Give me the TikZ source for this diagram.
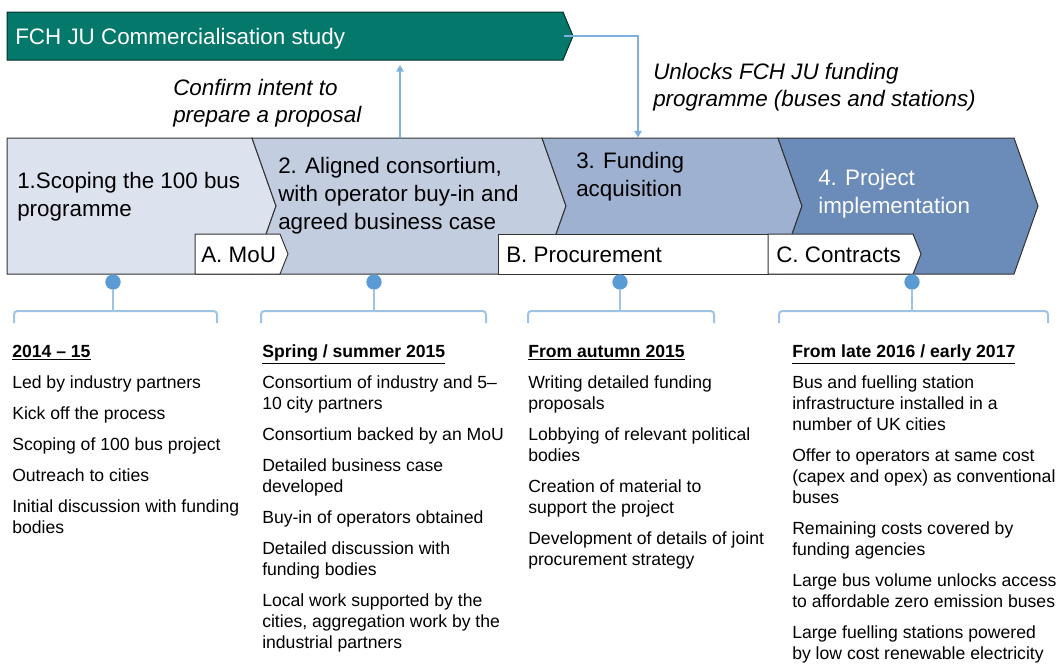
\documentclass[tikz,border=0pt]{standalone}
\usepackage{fontspec}
\setmainfont{Liberation Sans}
\usetikzlibrary{arrows.meta}
\definecolor{tealA}{HTML}{05786C}
\definecolor{chA}{HTML}{DCE2EE}
\definecolor{chB}{HTML}{C3CDE0}
\definecolor{chC}{HTML}{9EB1D0}
\definecolor{chD}{HTML}{6B8BB9}
\definecolor{dotc}{HTML}{5B9BD5}
\definecolor{brc}{HTML}{9DC3E6}
\definecolor{arc}{HTML}{7FB0DE}
\newcommand\mystrut{\rule{0pt}{0.8em}}
\begin{document}
\begin{tikzpicture}[x=0.75pt,y=-0.75pt,
  chev/.style={draw=black!80,line width=0.75pt,line join=miter},
  big/.style={font=\fontsize{16.8}{21}\selectfont,inner sep=0pt,align=left},
  lab/.style={font=\fontsize{16.8}{20.25}\selectfont\itshape,inner sep=0pt,align=left},
  body/.style={font=\fontsize{13.2}{15.75}\selectfont,inner sep=0pt,align=left,anchor=north west},
  dot/.style={circle,fill=dotc,inner sep=0pt,minimum size=11.5pt},
  brk/.style={draw=brc,line width=1.5pt,rounded corners=2.5pt},
  stem/.style={draw=brc,line width=1.5pt},
  conn/.style={draw=arc,line width=1.1pt,-{Triangle[width=5.5pt,length=5pt]}}]
\useasboundingbox (0,0) rectangle (1059,664);

% banner
\fill[tealA,draw=black!60!tealA,line width=0.75pt] (7,12) -- (563,12) -- (573,36) -- (563,60) -- (7,60) -- cycle;
\node[big,anchor=base west,text=white] (study) at (15,44) {FCH JU Commercialisation study};

% chevrons
\filldraw[chev,fill=chA] (7,138) -- (252,138) -- (276,206) -- (252,274) -- (7,274) -- cycle;
\filldraw[chev,fill=chB] (252,138) -- (542,138) -- (566,206) -- (542,274) -- (252,274) -- (276,206) -- cycle;
\filldraw[chev,fill=chC] (542,138) -- (778,138) -- (802,206) -- (778,274) -- (542,274) -- (566,206) -- cycle;
\filldraw[chev,fill=chD] (778,138) -- (1014,138) -- (1038,206) -- (1014,274) -- (778,274) -- (802,206) -- cycle;

% milestone boxes
\filldraw[chev,fill=white] (195,234) -- (280,234) -- (288,254) -- (280,274) -- (195,274) -- cycle;
\filldraw[chev,fill=white] (498,234) rectangle (768,274);
\filldraw[chev,fill=white] (768,234) -- (913,234) -- (921,254) -- (913,274) -- (768,274) -- cycle;
\node[big,anchor=base west] (mA) at (201,262) {A. MoU};
\node[big,anchor=base west] (mB) at (506,262) {B. Procurement};
\node[big,anchor=base west] (mC) at (776,262) {C. Contracts};

% chevron texts
\node[big,anchor=north west] (t1) at (17,170.1) {\mystrut 1.Scoping the 100 bus\\programme};
\node[big,anchor=north west] (t2) at (278,155.1) {\mystrut 2. Aligned consortium,\\with operator buy-in and\\agreed business case};
\node[big,anchor=north west] (t3) at (576,150.1) {\mystrut 3. Funding\\acquisition};
\node[big,anchor=north west,text=white] (t4) at (818,167.1) {\mystrut 4. Project\\implementation};

% arrow labels
\node[lab,anchor=north west] (l1) at (173,77.1) {\mystrut Confirm intent to\\prepare a proposal};
\node[lab,anchor=north west] (l2) at (653,61.1) {\mystrut Unlocks FCH JU funding\\programme (buses and stations)};

% connectors
\coordinate (bE) at (564,36);
\coordinate (c3top) at (638,137.5);
\coordinate (c2top) at (400,137.5);
\coordinate (bBot) at (400,65);
\draw[conn] (bE) -| (c3top);
\draw[conn] (c2top) -- (bBot);

% brackets
\coordinate (b1) at (113,311);
\coordinate (b2) at (374,311);
\coordinate (b3) at (620,311);
\coordinate (b4) at (912,311);
\draw[brk] (14,323) -- (14,311) -- (217,311) -- (217,323);
\draw[brk] (261,323) -- (261,311) -- (486,311) -- (486,323);
\draw[brk] (528,323) -- (528,311) -- (714,311) -- (714,323);
\draw[brk] (779,323) -- (779,311) -- (1048,311) -- (1048,323);
\node[dot] (d1) at (113,282) {};
\node[dot] (d2) at (374,282) {};
\node[dot] (d3) at (620,282) {};
\node[dot] (d4) at (912,282) {};
\draw[stem] (d1) -- (b1);
\draw[stem] (d2) -- (b2);
\draw[stem] (d3) -- (b3);
\draw[stem] (d4) -- (b4);

% columns
\node[body] (col1) at (12,342.9) {\mystrut\underline{\textbf{2014 – 15}}\\[7.5pt]
Led by industry partners\\[7.5pt]
Kick off the process\\[7.5pt]
Scoping of 100 bus project\\[7.5pt]
Outreach to cities\\[7.5pt]
Initial discussion with funding\\bodies};

\node[body] (col2) at (262,342.9) {\mystrut\underline{\textbf{Spring / summer 2015}}\\[7.5pt]
Consortium of industry and 5–\\10 city partners\\[7.5pt]
Consortium backed by an MoU\\[7.5pt]
Detailed business case\\developed\\[7.5pt]
Buy-in of operators obtained\\[7.5pt]
Detailed discussion with\\funding bodies\\[7.5pt]
Local work supported by the\\cities, aggregation work by the\\industrial partners};

\node[body] (col3) at (528,342.9) {\mystrut\underline{\textbf{From autumn 2015}}\\[7.5pt]
Writing detailed funding\\proposals\\[7.5pt]
Lobbying of relevant political\\bodies\\[7.5pt]
Creation of material to\\support the project\\[7.5pt]
Development of details of joint\\procurement strategy};

\node[body] (col4) at (792,342.9) {\mystrut\underline{\textbf{From late 2016 / early 2017}}\\[7.5pt]
Bus and fuelling station\\infrastructure installed in a\\number of UK cities\\[7.5pt]
Offer to operators at same cost\\(capex and opex) as conventional\\buses\\[7.5pt]
Remaining costs covered by\\funding agencies\\[7.5pt]
Large bus volume unlocks access\\to affordable zero emission buses\\[7.5pt]
Large fuelling stations powered\\by low cost renewable electricity};
\end{tikzpicture}
\end{document}
